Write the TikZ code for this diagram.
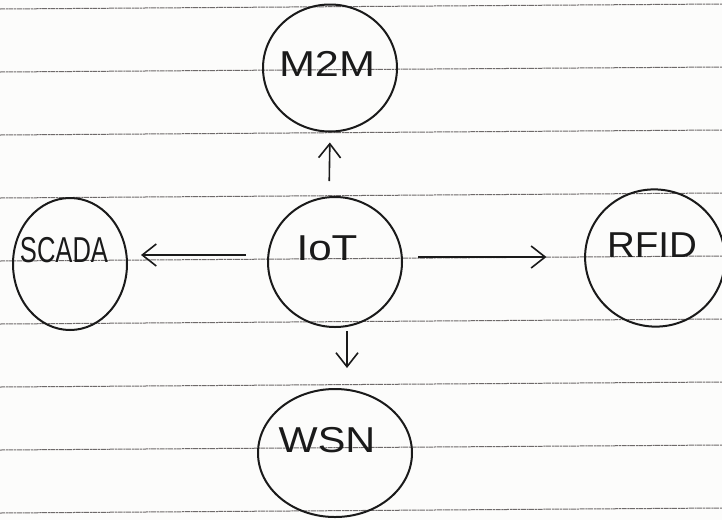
\documentclass[tikz,border=0pt]{standalone}
\usepackage{fontspec}
\setmainfont{Liberation Sans}
\usetikzlibrary{shapes.geometric,arrows.meta,calc}
\definecolor{ink}{HTML}{1A1A1A}
\definecolor{rule}{HTML}{6E6A6A}
\definecolor{paper}{HTML}{FCFCFB}
\begin{document}
\begin{tikzpicture}[x=1pt,y=-1pt,
  ruled/.style={rule,line width=1pt,dash pattern=on 5pt off 0.8pt on 2pt off 0.6pt},
  bubble/.style={ellipse,draw=ink,line width=2pt,inner sep=0pt},
  lbl/.style={ink,font=\fontsize{36}{36}\selectfont,inner sep=0pt},
  arr/.style={ink,line width=1.6pt,-{Straight Barb[length=14pt,width=22pt,line width=1.6pt]}}]
  \useasboundingbox[fill=paper] (0,0) rectangle (722,520);
  % ruled lines of the notebook page
  \foreach \i in {0,...,8}{
    \draw[ruled] (0,{9+63*\i}) -- (722,{4+63*\i});
  }
  % bubbles
  \node[bubble,minimum width=134pt,minimum height=127pt] (m2m) at (330,68) {};
  \node[bubble,minimum width=134pt,minimum height=130pt] (iot) at (335,262) {};
  \node[bubble,minimum width=114pt,minimum height=132pt] (scada) at (70,264) {};
  \node[bubble,minimum width=140pt,minimum height=137pt,rotate=-15] (rfid) at (655,258) {};
  \node[bubble,minimum width=154pt,minimum height=128pt] (wsn) at (335,453) {};
  % labels
  \node[lbl] (m2mT) at (327,64) {\scalebox{1.2}[1]{M2M}};
  \node[lbl] (iotT) at (327,248) {\scalebox{1.17}[1]{IoT}};
  \node[lbl] (scadaT) at (64,250) {\scalebox{0.71}[1]{SCADA}};
  \node[lbl] (rfidT) at (652,245) {\scalebox{1.07}[1]{RFID}};
  \node[lbl] (wsnT) at (327,440) {\scalebox{1.15}[1]{WSN}};
  % connectors
  \draw[arr,shorten <=15pt,shorten >=10pt] ([xshift=-6pt]iot.north) -- (m2m.south);
  \draw[arr,shorten <=21pt,shorten >=13pt] ([yshift=7pt]iot.west) -- ([yshift=9pt]scada.east);
  \draw[arr,shorten <=15pt,shorten >=40pt] ([yshift=5pt]iot.east) -- ([yshift=5pt]iot.east -| rfid.west);
  \draw[arr,shorten <=3pt,shorten >=20pt] ([xshift=12pt]iot.south) -- ([xshift=12pt]wsn.north);
\end{tikzpicture}
\end{document}
